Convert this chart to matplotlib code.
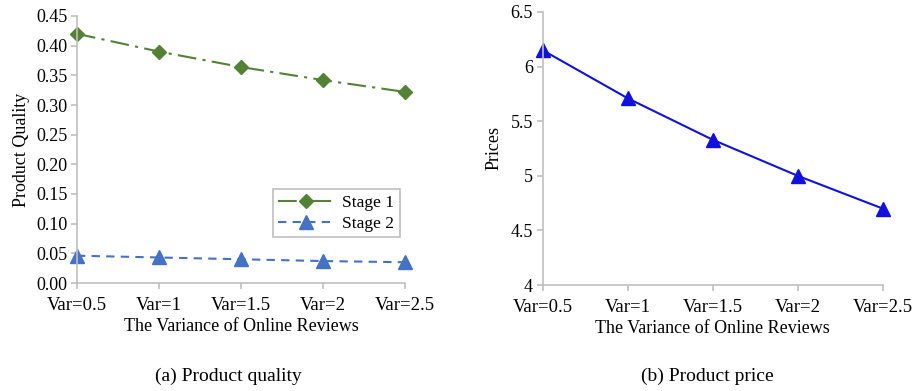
import matplotlib.pyplot as plt
import numpy as np

plt.rcParams['font.family'] = ['Liberation Serif', 'DejaVu Serif']
plt.rcParams['font.size'] = 13

categories = ['Var=0.5', 'Var=1', 'Var=1.5', 'Var=2', 'Var=2.5']
stage1 = [0.420, 0.390, 0.364, 0.342, 0.322]
stage2 = [0.046, 0.043, 0.040, 0.037, 0.035]
prices = [6.15, 5.71, 5.33, 5.00, 4.70]

x = np.arange(len(categories))
grey = '#BFBFBF'

fig = plt.figure(figsize=(9.2, 3.91), dpi=100)


def style_axes(ax):
    for s in ['top', 'right']:
        ax.spines[s].set_visible(False)
    for s in ['left', 'bottom']:
        ax.spines[s].set_color(grey)
        ax.spines[s].set_linewidth(1.2)
    ax.tick_params(axis='both', color=grey, width=1.2, length=4, direction='out', pad=3)
    ax.tick_params(axis='x', labelsize=13.5, pad=6)
    ax.set_xticks(x)
    ax.set_xticklabels(categories)
    ax.set_xlim(0, len(categories) - 1)
    ax.set_xlabel('The Variance of Online Reviews', labelpad=3)


# (a) product quality
ax1 = fig.add_axes([77 / 920, 1 - 283 / 391, 328 / 920, 267 / 391])
ax1.plot(x, stage1, color='#548235', linestyle=(0, (9, 3, 1.5, 3)), linewidth=1.5,
         marker='D', markersize=7.5, label='Stage 1', clip_on=False)
ax1.plot(x, stage2, color='#4472C4', linestyle=(0, (4, 3)), linewidth=1.5,
         marker='^', markersize=10, label='Stage 2', clip_on=False)
ax1.set_ylim(0, 0.45)
ax1.set_yticks(np.arange(0, 0.451, 0.05))
ax1.set_yticklabels([f'{v:.2f}' for v in np.arange(0, 0.451, 0.05)])
ax1.set_ylabel('Product Quality', labelpad=4)
style_axes(ax1)
leg = ax1.legend(loc='lower right', bbox_to_anchor=(1.01, 0.139), fancybox=False,
                 edgecolor=grey, framealpha=1, handlelength=3.2, borderpad=0.3,
                 labelspacing=0.3, handletextpad=0.5, fontsize=12.5)
leg.get_frame().set_linewidth(1.2)

# (b) product price
ax2 = fig.add_axes([542.7 / 920, 1 - 285 / 391, 340 / 920, 273 / 391])
ax2.plot(x, prices, color='#1111DD', linewidth=1.5, marker='^', markersize=10, clip_on=False)
ax2.set_ylim(4, 6.5)
ax2.set_yticks([4, 4.5, 5, 5.5, 6, 6.5])
ax2.set_yticklabels(['4', '4.5', '5', '5.5', '6', '6.5'])
ax2.set_ylabel('Prices', labelpad=6)
style_axes(ax2)

fig.text(228 / 920, 1 - 376 / 391, '(a) Product quality', ha='center', va='center', fontsize=14)
fig.text(707 / 920, 1 - 376 / 391, '(b) Product price', ha='center', va='center', fontsize=14)

plt.savefig('out.png', dpi=100)
